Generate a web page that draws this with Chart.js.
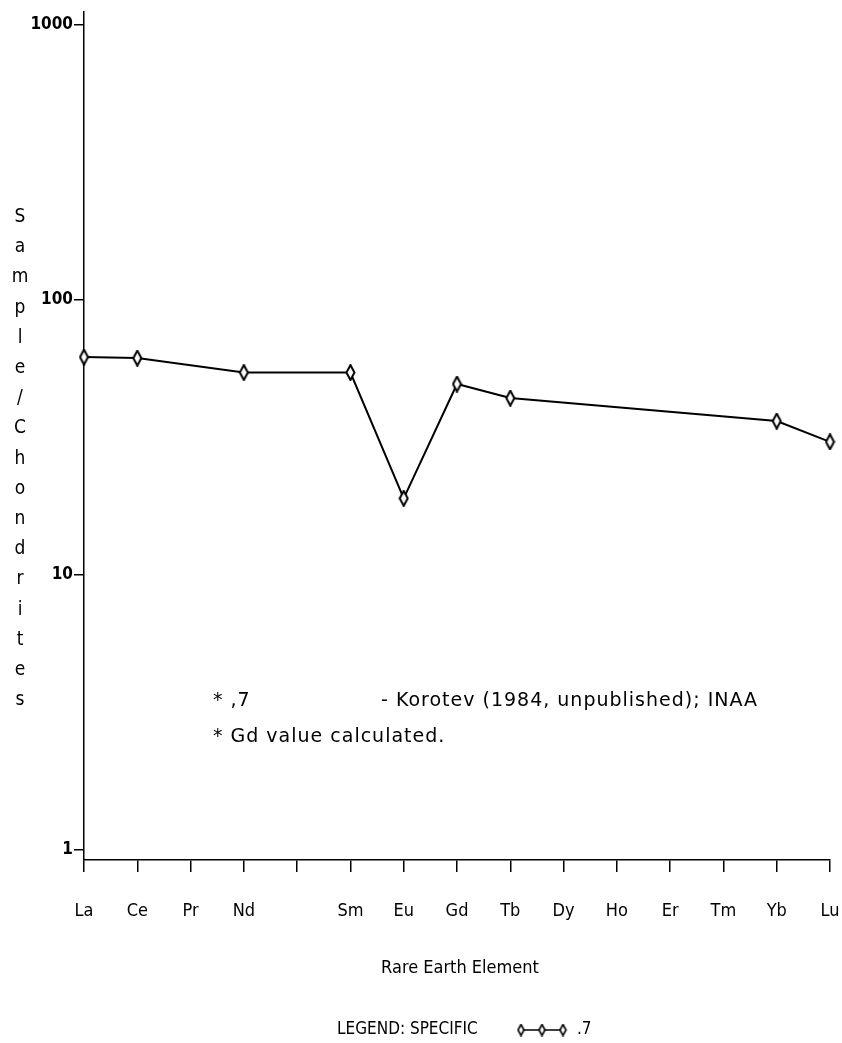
<!DOCTYPE html>
<html>
<head>
<meta charset="utf-8">
<script src="https://cdn.jsdelivr.net/npm/chart.js@4/dist/chart.umd.min.js"></script>
<style>
  body { margin: 0; background: #fff; }
  #wrap { width: 842px; height: 1043px; }
</style>
</head>
<body>
<div id="wrap"><canvas id="ree" width="842" height="1043"></canvas></div>
<script>
// data
const elements = ['La', 'Ce', 'Pr', 'Nd', '', 'Sm', 'Eu', 'Gd', 'Tb', 'Dy', 'Ho', 'Er', 'Tm', 'Yb', 'Lu'];
const sampleValues = [62, 61.5, null, 54.5, null, 54.5, 19, 49.5, 44, null, null, null, null, 36.3, 30.5];
const yTicks = [1, 10, 100, 1000];
const yTitle = 'Sample/Chondrites';
const noteLines = ['* ,7', '- Korotev (1984, unpublished); INAA', '* Gd value calculated.'];

const PLOT_FONT = "'Liberation Sans Narrow', 'DejaVu Sans Condensed', 'Liberation Sans', sans-serif";
const NOTE_FONT = "'DejaVu Sans', Verdana, sans-serif";

// tall hollow diamond used as the marker
function makeDiamond(w, h, lw) {
  const c = document.createElement('canvas');
  c.width = w; c.height = h;
  const g = c.getContext('2d');
  g.beginPath();
  g.moveTo(w / 2, 1);
  g.lineTo(w - 1.5, h / 2);
  g.lineTo(w / 2, h - 1);
  g.lineTo(1.5, h / 2);
  g.closePath();
  g.fillStyle = '#fff';
  g.fill();
  g.lineWidth = lw;
  g.strokeStyle = '#000';
  g.stroke();
  return c;
}
const diamond = makeDiamond(11, 17, 2);
const smallDiamond = makeDiamond(9, 13, 1.6);

// extra text: stacked y title, notes, x title, legend line
const extras = {
  id: 'extras',
  afterDraw(chart) {
    const ctx = chart.ctx;
    ctx.save();
    ctx.fillStyle = '#000';

    // stacked y axis title
    ctx.font = '19px ' + PLOT_FONT;
    ctx.textAlign = 'center';
    ctx.textBaseline = 'middle';
    yTitle.split('').forEach((ch, i) => ctx.fillText(ch, 20, 217 + i * 30.2));

    // notes inside the plot
    ctx.font = '19px ' + NOTE_FONT;
    ctx.letterSpacing = '1px';
    ctx.textAlign = 'left';
    ctx.fillText(noteLines[0], 213, 701);
    ctx.fillText(noteLines[1], 381, 701);
    ctx.fillText(noteLines[2], 213, 737);
    ctx.letterSpacing = '0px';

    // x axis title
    ctx.font = '18px ' + PLOT_FONT;
    ctx.textAlign = 'center';
    ctx.fillText('Rare Earth Element', 460, 968);

    // legend
    ctx.font = '17px ' + PLOT_FONT;
    ctx.textAlign = 'left';
    ctx.fillText('LEGEND: SPECIFIC', 337, 1030);
    ctx.strokeStyle = '#000';
    ctx.lineWidth = 1.6;
    ctx.beginPath();
    ctx.moveTo(519, 1030);
    ctx.lineTo(565, 1030);
    ctx.stroke();
    [521, 542, 563].forEach(x => ctx.drawImage(smallDiamond, x - 4.5, 1030 - 6.5));
    ctx.fillText('.7', 577, 1030);
    ctx.restore();
  }
};

new Chart(document.getElementById('ree').getContext('2d'), {
  type: 'line',
  data: {
    labels: elements,
    datasets: [{
      label: ',7',
      data: sampleValues,
      borderColor: '#000',
      borderWidth: 2,
      spanGaps: true,
      tension: 0,
      pointStyle: diamond,
      pointRadius: 8,
      clip: false
    }]
  },
  options: {
    responsive: false,
    animation: false,
    layout: { padding: { top: 12, right: 12, left: 0, bottom: 0 } },
    plugins: {
      legend: { display: false },
      tooltip: { enabled: false }
    },
    scales: {
      x: {
        type: 'category',
        offset: false,
        grid: { drawOnChartArea: false, drawTicks: true, tickLength: 12, color: '#000', lineWidth: 1.5 },
        border: { display: true, color: '#000', width: 1.5 },
        ticks: { color: '#000', font: { family: PLOT_FONT, size: 18 }, padding: 29, maxRotation: 0, autoSkip: false },
        afterFit(scale) {
          scale.height = 183;
          // the big label padding should not eat into the plot width
          scale.paddingLeft = 0;
          scale.paddingRight = 0;
        }
      },
      y: {
        type: 'logarithmic',
        min: 0.92,
        max: 1115,
        afterBuildTicks(scale) { scale.ticks = yTicks.map(v => ({ value: v })); },
        grid: { drawOnChartArea: false, drawTicks: true, tickLength: 10, color: '#000', lineWidth: 1.5 },
        border: { display: true, color: '#000', width: 1.5 },
        ticks: {
          color: '#000',
          font: { family: PLOT_FONT, size: 17, weight: 'bold' },
          padding: 1,
          callback: v => String(v)
        },
        afterFit(scale) { scale.width = 84; }
      }
    }
  },
  plugins: [extras]
});
</script>
</body>
</html>
